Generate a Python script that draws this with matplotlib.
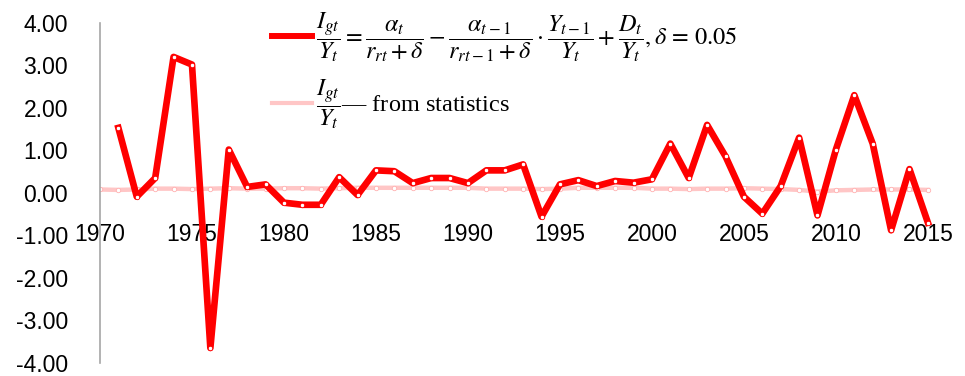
import matplotlib
matplotlib.use("Agg")
import matplotlib.pyplot as plt
from matplotlib.lines import Line2D
import numpy as np

# model values (1971-2015) and statistics (1970-2015)
years_model = list(range(1971, 2016))
model = [1.53, -0.09, 0.35, 3.20, 3.02, -3.65, 1.02, 0.14, 0.20, -0.23,
         -0.28, -0.28, 0.37, -0.05, 0.53, 0.51, 0.23, 0.35, 0.35, 0.23,
         0.53, 0.53, 0.67, -0.56, 0.20, 0.30, 0.16, 0.28, 0.24, 0.32,
         1.16, 0.35, 1.60, 0.86, -0.09, -0.49, 0.16, 1.30, -0.53, 1.02,
         2.30, 1.16, -0.88, 0.56, -0.70]

years_stat = list(range(1970, 2016))
stat = [0.08, 0.07, 0.08, 0.10, 0.10, 0.09, 0.10, 0.11, 0.10, 0.10,
        0.11, 0.11, 0.10, 0.11, 0.12, 0.12, 0.12, 0.12, 0.12, 0.12,
        0.12, 0.10, 0.10, 0.10, 0.09, 0.10, 0.12, 0.12, 0.12, 0.12,
        0.10, 0.10, 0.09, 0.10, 0.10, 0.11, 0.10, 0.09, 0.07, 0.03,
        0.06, 0.07, 0.08, 0.08, 0.08, 0.07]

xticks = list(range(1970, 2016, 5))
yticks = [-4, -3, -2, -1, 0, 1, 2, 3, 4]

plt.rcParams['font.family'] = ['Liberation Sans', 'DejaVu Sans']
plt.rcParams['axes.unicode_minus'] = False
plt.rcParams['mathtext.fontset'] = 'stix'

fig = plt.figure(figsize=(9.65, 3.76), dpi=100)
ax = fig.add_axes([0.1036, 0.035, 0.877, 0.904])

ax.plot(years_stat, stat, color='#ffc6c6', lw=3.2, marker='o', ms=3.2,
        mfc='white', mec='#ffb0b0', mew=0.6, zorder=2)
ax.plot(years_model, model, color='#ff0000', lw=4.8, marker='o', ms=3.2,
        mfc='white', mec='#ff0000', mew=0.6, zorder=3)

ax.set_xlim(1970, 2016)
ax.set_ylim(-4, 4)
ax.set_xticks(xticks)
ax.set_yticks(yticks)
ax.set_yticklabels(['%.2f' % v for v in yticks])

for s in ['top', 'right']:
    ax.spines[s].set_visible(False)
ax.spines['bottom'].set_position(('data', 0))
ax.spines['bottom'].set_color('none')
ax.spines['left'].set_color('#a6a6a6')
ax.spines['left'].set_linewidth(1.2)
ax.tick_params(axis='x', length=0, pad=22, labelsize=16.5)
ax.tick_params(axis='y', length=0, pad=23, labelsize=16.5)

lab1 = (r'$\dfrac{I_{gt}}{Y_t} = \dfrac{\alpha_t}{r_{rt} + \delta} - '
        r'\dfrac{\alpha_{t-1}}{r_{rt-1} + \delta} \cdot \dfrac{Y_{t-1}}{Y_t} + '
        r'\dfrac{D_t}{Y_t}, \delta\, =\, 0.05$')
lab2 = r'$\dfrac{I_{gt}}{Y_t}$— from statistics'
handles = [Line2D([], [], color='#ff0000', lw=4.3),
           Line2D([], [], color='#ffc6c6', lw=3.0)]
leg = fig.legend(handles, [lab1, lab2], loc='upper left',
                 bbox_to_anchor=(0.282, 0.972), frameon=False,
                 prop={'family': 'Liberation Serif', 'size': 17.5},
                 handlelength=1.65, handletextpad=0.15, labelspacing=0.55,
                 borderpad=0, borderaxespad=0)

fig.savefig('out.png', dpi=100)
